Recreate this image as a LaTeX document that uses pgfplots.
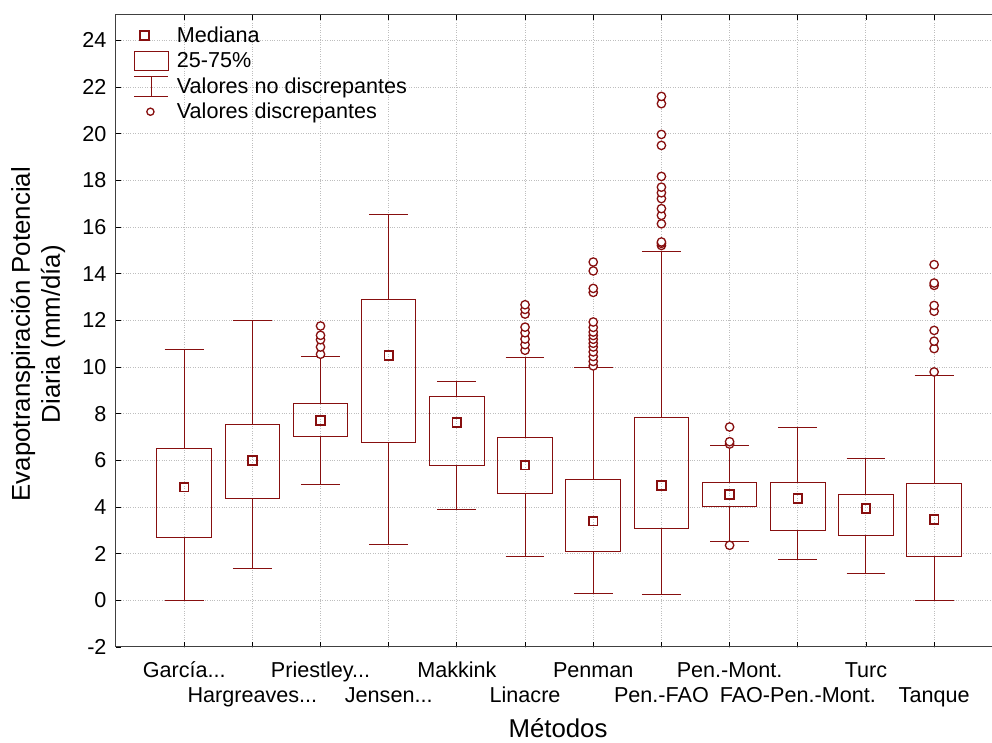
\documentclass[border=0pt]{standalone}
\usepackage{fontspec}
\setmainfont{Liberation Sans}
\usepackage{pgfplots}
\pgfplotsset{compat=1.18}
\usepgfplotslibrary{statistics}

\definecolor{boxred}{RGB}{135,15,15}
\definecolor{gridgray}{RGB}{190,190,190}

\newcommand{\chartfont}{\fontsize{21.6}{25}\selectfont}
\newcommand{\labelfont}{\fontsize{25.8}{30}\selectfont}
\newcommand{\trunc}{...}

% one prepared box: position, lower whisker, lower quartile, median, upper quartile, upper whisker
\pgfplotsset{
  bx/.style n args={6}{
    boxplot prepared={draw position=#1, lower whisker=#2, lower quartile=#3,
      median=#4, upper quartile=#5, upper whisker=#6},
    forget plot, draw=boxred, line width=1pt,
    mark=*, mark size=4.2pt,
    mark options={fill=white, draw=boxred, line width=1.3pt, solid},
  },
}

\begin{document}
\begin{tikzpicture}
\begin{axis}[
  scale only axis,
  width=886.3pt, height=632pt,
  xmin=0, xmax=13,
  ymin=-2, ymax=25.09,
  xtick={1,2,3,4,5,6,7,8,9,10,11,12},
  xticklabels={\strut García\trunc, {\strut\\Hargreaves\trunc}, \strut Priestley\trunc,
    {\strut\\Jensen\trunc}, \strut Makkink, {\strut\\Linacre}, \strut Penman,
    {\strut\\Pen.-FAO}, \strut Pen.-Mont., {\strut\\FAO-Pen.-Mont.}, \strut Turc,
    {\strut\\Tanque}},
  ytick={-2,0,2,4,6,8,10,12,14,16,18,20,22,24},
  tick align=inside,
  major tick length=5pt,
  xtick pos=both, ytick pos=left,
  tick style={black, line width=0.9pt},
  axis line style={black!75, line width=1pt},
  grid=major,
  major grid style={gridgray, dotted, line width=1pt},
  /pgf/number format/assume math mode=true,
  tick label style={font=\chartfont},
  xticklabel style={align=center, anchor=north, inner sep=0pt, yshift=-12.5pt},
  yticklabel style={xshift=-6pt},
  label style={font=\labelfont},
  xlabel={Métodos},
  xlabel style={at={([yshift=-90pt]axis description cs:0.4987,0)}, anchor=base,
    inner sep=0pt},
  ylabel={Evapotranspiración Potencial\\Diaria (mm/día)},
  ylabel style={align=center, at={([xshift=-78pt]axis description cs:0,0.495)},
    anchor=center},
  boxplot/draw direction=y,
  boxplot/box extend=0.8,
  boxplot/whisker extend=0.57,
  boxplot/draw/median/.code={},
  legend cell align=left,
  legend style={draw=none, fill=none, font=\chartfont,
    at={(axis description cs:0.0166,0.988)}, anchor=north west,
    row sep=4.5pt, /tikz/every odd column/.append style={column sep=6pt}},
]
\coordinate (sw) at (rel axis cs:0,0);

\addplot[bx={1}{0}{2.7}{4.85}{6.5}{10.75}] coordinates {};
\addplot[bx={2}{1.35}{4.35}{6.0}{7.55}{12.0}] coordinates {};
\addplot[bx={3}{4.97}{7.03}{7.7}{8.42}{10.47}] coordinates {
  (0,10.55) (0,10.86) (0,11.17) (0,11.36) (0,11.76)};
\addplot[bx={4}{2.4}{6.75}{10.5}{12.9}{16.55}] coordinates {};
\addplot[bx={5}{3.9}{5.8}{7.63}{8.74}{9.4}] coordinates {};
\addplot[bx={6}{1.9}{4.6}{5.79}{7.0}{10.41}] coordinates {
  (0,10.72) (0,10.96) (0,11.2) (0,11.47) (0,11.71) (0,12.27) (0,12.47) (0,12.67)};
\addplot[bx={7}{0.3}{2.1}{3.39}{5.2}{9.97}] coordinates {
  (0,10.05) (0,10.24) (0,10.45) (0,10.65) (0,10.86) (0,11.02) (0,11.19) (0,11.35)
  (0,11.5) (0,11.7) (0,11.93) (0,13.2) (0,13.37) (0,14.12) (0,14.5)};
\addplot[bx={8}{0.25}{3.1}{4.93}{7.85}{14.96}] coordinates {
  (0,15.21) (0,15.3) (0,15.36) (0,16.14) (0,16.5) (0,16.79) (0,17.22) (0,17.47)
  (0,17.71) (0,18.17) (0,19.5) (0,19.97) (0,21.29) (0,21.6)};
\addplot[bx={9}{2.51}{4.01}{4.53}{5.04}{6.63}] coordinates {
  (0,2.36) (0,6.7) (0,6.8) (0,7.43)};
\addplot[bx={10}{1.74}{3.0}{4.36}{5.07}{7.4}] coordinates {};
\addplot[bx={11}{1.15}{2.8}{3.94}{4.55}{6.1}] coordinates {};
\addplot[bx={12}{0}{1.9}{3.47}{5.0}{9.64}] coordinates {
  (0,9.79) (0,10.79) (0,11.11) (0,11.57) (0,12.39) (0,12.64) (0,13.5) (0,13.6) (0,14.39)};

% medians
\addplot[forget plot, only marks, mark=square, mark size=4.3pt,
  mark options={draw=boxred, line width=1.8pt, solid}]
  coordinates {(1,4.85) (2,6.0) (3,7.7) (4,10.5) (5,7.63) (6,5.79)
    (7,3.39) (8,4.93) (9,4.53) (10,4.36) (11,3.94) (12,3.47)};

\addlegendimage{legend image code/.code={
  \draw[boxred, line width=1.8pt] (5.7pt,-4.3pt) rectangle (14.3pt,4.3pt);}}
\addlegendentry{Mediana}
\addlegendimage{legend image code/.code={
  \draw[boxred, line width=1pt] (0pt,-9.5pt) rectangle (34pt,9.5pt);}}
\addlegendentry{25-75\%}
\addlegendimage{legend image code/.code={
  \draw[boxred, line width=1pt] (0pt,-10pt) -- (34pt,-10pt)
    (17pt,-10pt) -- (17pt,10pt) (0pt,10pt) -- (34pt,10pt);}}
\addlegendentry{Valores no discrepantes}
\addlegendimage{legend image code/.code={
  \draw[boxred, line width=1.3pt, fill=white] (16pt,0pt) circle (3.6pt);}}
\addlegendentry{Valores discrepantes}
\end{axis}
\pgfresetboundingbox
\path (sw) ++(-116pt,-96pt) rectangle ++(992pt,743pt);
\end{tikzpicture}
\end{document}
